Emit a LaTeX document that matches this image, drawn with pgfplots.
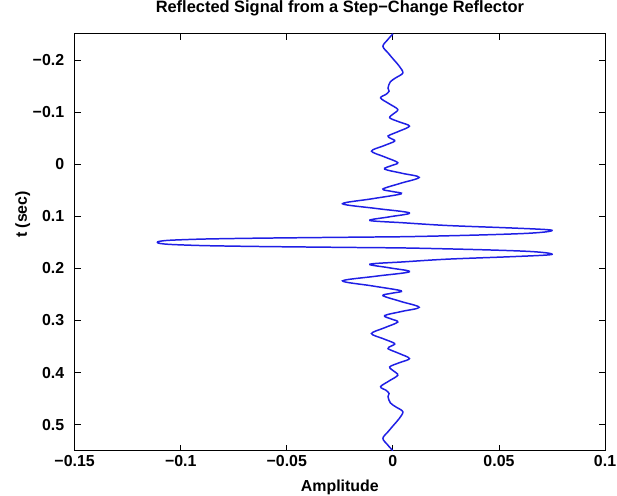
\documentclass[border=0pt]{standalone}
\usepackage{pgfplots}
\pgfplotsset{compat=1.18}
\usepackage{fontspec}
\setmainfont{Liberation Sans}
\pgfplotstableread{
amp t
0.0000 -0.250
-0.0026 -0.238
-0.0047 -0.226
-0.0022 -0.213
0.0005 -0.200
0.0030 -0.188
0.0047 -0.175
0.0015 -0.166
-0.0012 -0.158
-0.0023 -0.146
-0.0018 -0.140
-0.0032 -0.134
-0.0058 -0.127
-0.0018 -0.116
0.0023 -0.105
0.0004 -0.097
-0.0015 -0.089
0.0030 -0.081
0.0078 -0.073
0.0028 -0.063
-0.0023 -0.054
-0.0008 -0.049
0.0008 -0.044
-0.0045 -0.035
-0.0101 -0.025
-0.0040 -0.014
0.0023 -0.003
-0.0008 0.003
-0.0039 0.0095
0.0043 0.0175
0.0124 0.0254
0.0038 0.0365
-0.0047 0.0477
-0.0004 0.0524
0.0039 0.057
-0.0099 0.0665
-0.0237 0.076
-0.0080 0.085
0.0078 0.0935
-0.0015 0.101
-0.0109 0.108
0.0050 0.1125
0.0256 0.1177
0.0530 0.122
0.0700 0.125
0.0750 0.127
0.0720 0.130
0.0620 0.133
0.0400 0.136
0.0080 0.139
-0.0150 0.140
-0.0400 0.141
-0.0630 0.142
-0.0800 0.143
-0.0920 0.144
-0.1050 0.146
-0.1100 0.148
-0.1110 0.150
-0.1100 0.152
-0.1050 0.154
-0.0920 0.156
-0.0800 0.157
-0.0630 0.158
-0.0400 0.159
-0.0150 0.160
0.0080 0.161
0.0400 0.164
0.0620 0.167
0.0720 0.170
0.0750 0.173
0.0700 0.175
0.0530 0.178
0.0256 0.1823
0.0050 0.1875
-0.0109 0.192
-0.0015 0.199
0.0078 0.2065
-0.0080 0.215
-0.0237 0.224
-0.0099 0.2335
0.0039 0.243
-0.0004 0.2476
-0.0047 0.2523
0.0038 0.2635
0.0124 0.2746
0.0043 0.2825
-0.0039 0.2905
-0.0008 0.297
0.0023 0.303
-0.0040 0.314
-0.0101 0.325
-0.0045 0.335
0.0008 0.344
-0.0008 0.349
-0.0023 0.354
0.0028 0.363
0.0078 0.373
0.0030 0.381
-0.0015 0.389
0.0004 0.397
0.0023 0.405
-0.0018 0.416
-0.0058 0.427
-0.0032 0.434
-0.0018 0.440
-0.0023 0.446
-0.0012 0.458
0.0015 0.466
0.0047 0.475
0.0030 0.488
0.0005 0.500
-0.0022 0.513
-0.0047 0.526
-0.0026 0.538
0.0000 0.550
}\signal
\begin{document}
\begin{tikzpicture}
\begin{axis}[
  scale only axis,
  width=533pt, height=419pt,
  xmin=-0.15, xmax=0.1,
  ymin=-0.25, ymax=0.55,
  y dir=reverse,
  xtick={-0.15,-0.1,-0.05,0,0.05,0.1},
  xticklabels={−0.15,−0.1,−0.05,0,0.05,0.1},
  ytick={-0.2,-0.1,0,0.1,0.2,0.3,0.4,0.5},
  yticklabels={−0.2,−0.1,0,0.1,0.2,0.3,0.4,0.5},
  tick align=inside,
  major tick length=6pt,
  xtick pos=both, ytick pos=both,
  axis line style={line width=1pt},
  every tick/.style={black, line width=0.8pt},
  tick label style={font=\fontsize{16}{19}\selectfont\bfseries},
  xticklabel style={yshift=-1.5pt},
  yticklabel style={xshift=-7pt},
  title={Reflected Signal from a Step−Change Reflector},
  title style={font=\fontsize{16.5}{19}\selectfont\bfseries, at={(rel axis cs:0.5,1)}, anchor=base, yshift=15pt},
  xlabel={Amplitude},
  xlabel style={font=\fontsize{16}{19}\selectfont\bfseries, at={(rel axis cs:0.5,0)}, anchor=base, yshift=-41pt},
  ylabel={t (sec)},
  ylabel style={font=\fontsize{16}{19}\selectfont\bfseries, at={(rel axis cs:0,0.5)}, anchor=base, yshift=48pt, xshift=28pt},
]
\addplot[color={rgb,1:red,0.12;green,0.12;blue,0.9}, line width=1.5pt, smooth, tension=0.55] table[x=amp, y=t] {\signal};
\end{axis}
\pgfresetboundingbox
\path (-75pt,-45pt) rectangle (545pt,453pt);
\end{tikzpicture}
\end{document}
